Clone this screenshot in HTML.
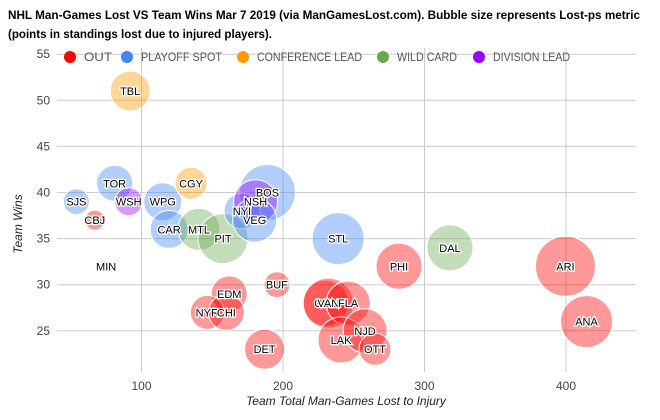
<!DOCTYPE html>
<html><head><meta charset="utf-8"><style>
body{margin:0;background:#fff;width:660px;height:415px;overflow:hidden;font-family:"Liberation Sans",Arial,sans-serif}
svg text{font-family:"Liberation Sans",Arial,sans-serif}
</style></head><body>
<svg id="chart" width="660" height="415" xmlns="http://www.w3.org/2000/svg">
<text x="8" y="19" font-size="12" font-weight="bold" fill="#000" textLength="632" lengthAdjust="spacingAndGlyphs">NHL Man-Games Lost VS Team Wins Mar 7 2019 (via ManGamesLost.com). Bubble size represents Lost-ps metric</text>
<text x="8" y="38" font-size="12" font-weight="bold" fill="#000" textLength="264" lengthAdjust="spacingAndGlyphs">(points in standings lost due to injured players).</text>
<g id="grid"></g><g id="bubbles"></g><g id="labels"></g><g id="legend"></g>
<text x="346" y="405" font-size="12" font-style="italic" text-anchor="middle" fill="#222">Team Total Man-Games Lost to Injury</text>
<text transform="translate(22,224) rotate(-90)" font-size="12" font-style="italic" text-anchor="middle" fill="#222">Team Wins</text>
</svg>
<script>
const teams=["TBL","TOR","SJS","WSH","CBJ","WPG","CAR","CGY","MTL","PIT","BOS","NYI","NSH","VEG","MIN","EDM","NYR","CHI","BUF","DET","COL","VAN","FLA","LAK","NJD","OTT","STL","PHI","DAL","ARI","ANA"];
const manGames=[92,81,54,91,67,115,119.5,135,140.6,157.6,189,171,180.6,180,75,162,146.5,160,195.7,187,230,232,246,241,258,265,239,282,318,399.6,414.5];
const wins=[51,41,39,39,37,39,36,41,36,35,40,38,39,37,32,29,27,27,30,23,28,28,28,24,25,23,35,32,34,32,26];
const lostPs=[20,18,13,14,10,19,19,16,21,25,28,18,22,22,0,18,17,18,13,20,23,25,22,23,22,16,26,23,23,30,26];
const groups=["CONF","PLAY","PLAY","DIV","OUT","PLAY","PLAY","CONF","WILD","WILD","PLAY","PLAY","DIV","PLAY","OUT","OUT","OUT","OUT","OUT","OUT","OUT","OUT","OUT","OUT","OUT","OUT","PLAY","OUT","WILD","OUT","OUT"];
const legendKeys=["OUT","PLAY","CONF","WILD","DIV"];
const legendLabels=["OUT","PLAYOFF SPOT","CONFERENCE LEAD","WILD CARD","DIVISION LEAD"];
const xTicks=[100,200,300,400];
const yTicks=[25,30,35,40,45,50,55];
const colors={OUT:"#ff0000",PLAY:"#4285f4",CONF:"#ff9900",WILD:"#6aa84f",DIV:"#9900ff"};
const NS="http://www.w3.org/2000/svg";
const X=v=>141.5+(v-100)*1.415;
const Y=v=>100.3-(v-50)*9.22;
const L=57,R=636,T=48,B=372;
function mk(t,a,p){const e=document.createElementNS(NS,t);for(const k in a)e.setAttribute(k,a[k]);p.appendChild(e);return e;}
const grid=document.getElementById('grid');
xTicks.forEach(v=>{
 const l=mk('line',{x1:X(v),x2:X(v),y1:T,y2:B,stroke:'#ccc'},grid);
 
 
 const t=mk('text',{x:X(v),y:390,'font-size':12,'text-anchor':'middle',fill:'#444'},grid);t.textContent=v;
 
 
});
yTicks.forEach(v=>{
 const l=mk('line',{x1:L,x2:R,y1:Y(v),y2:Y(v),stroke:'#ccc'},grid);
 
 
 const t=mk('text',{x:50,y:Y(v)+4,'font-size':12,'text-anchor':'end',fill:'#444'},grid);t.textContent=v;
 
 
});
const bg=document.getElementById('bubbles'),lg=document.getElementById('labels');
teams.forEach((n,i)=>{
 if(lostPs[i]>0){
  const c=mk('circle',{cx:X(manGames[i]),cy:Y(wins[i]),r:lostPs[i],fill:colors[groups[i]],'fill-opacity':0.4,stroke:'#fff','stroke-width':1},bg);
  
  
 }
 const t=mk('text',{x:X(manGames[i]),y:Y(wins[i])+4,'font-size':11,'text-anchor':'middle',fill:'#000',stroke:'#fff','stroke-width':2.5,'paint-order':'stroke'},lg);
 t.textContent=n;
 
 
});
const leg=document.getElementById('legend');
const lx=[70,127,243,383,479];
const lw=[28,81,105,60,77];
legendKeys.forEach((k,i)=>{
 const g=mk('g',{},leg);
 
 
 mk('circle',{cx:lx[i],cy:57,r:6,fill:colors[k]},g);
 const t=mk('text',{x:lx[i]+14,y:61,'font-size':12,fill:'#555',textLength:lw[i],lengthAdjust:'spacingAndGlyphs'},g);t.textContent=legendLabels[i];
});
</script>
</body></html>
